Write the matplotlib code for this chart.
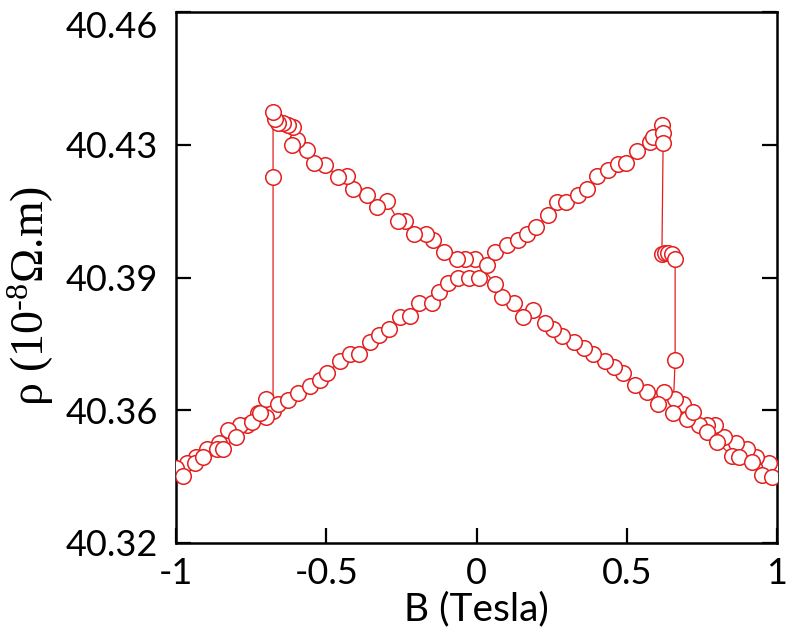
import matplotlib
matplotlib.use("Agg")
import matplotlib.pyplot as plt
import matplotlib.transforms as mtransforms
import numpy as np

# Sweep 1: field decreasing from +1 T to -1 T
B_down = [1.000, 0.973, 0.930, 0.900, 0.864, 0.824, 0.794, 0.767, 0.740, 0.687,
          0.661, 0.624, 0.604, 0.567, 0.527, 0.488, 0.458, 0.428, 0.388, 0.358,
          0.324, 0.285, 0.255, 0.228, 0.188, 0.155, 0.125, 0.085, 0.062, -0.005,
          -0.038, -0.065, -0.108, -0.145, -0.168, -0.208, -0.238, -0.261, -0.298, -0.331,
          -0.364, -0.411, -0.431, -0.461, -0.504, -0.541, -0.564, -0.597, -0.614, -0.611,
          -0.627, -0.644, -0.661, -0.671, -0.677, -0.677, -0.677, -0.700, -0.727, -0.764,
          -0.787, -0.827, -0.857, -0.897, -0.933, -0.963, -1.000]
rho_down = [40.3398, 40.3412, 40.3428, 40.3447, 40.3464, 40.3480, 40.3512, 40.3512, 40.3512, 40.3567,
            40.3580, 40.3597, 40.3567, 40.3597, 40.3617, 40.3648, 40.3664, 40.3681, 40.3697, 40.3714,
            40.3730, 40.3747, 40.3764, 40.3780, 40.3814, 40.3797, 40.3833, 40.3849, 40.3883, 40.3950,
            40.3950, 40.3950, 40.3966, 40.3999, 40.4016, 40.4016, 40.4050, 40.4050, 40.4102, 40.4086,
            40.4118, 40.4133, 40.4168, 40.4165, 40.4197, 40.4203, 40.4236, 40.4263, 40.4249, 40.4297,
            40.4302, 40.4307, 40.4307, 40.4318, 40.4336, 40.4165, 40.3549, 40.3532, 40.3544, 40.3512,
            40.3512, 40.3498, 40.3464, 40.3447, 40.3428, 40.3412, 40.3398]

# Sweep 2: field increasing from -1 T to +1 T
B_up = [-0.977, -0.937, -0.910, -0.864, -0.844, -0.800, -0.747, -0.720, -0.700, -0.661,
        -0.627, -0.594, -0.554, -0.521, -0.498, -0.454, -0.421, -0.391, -0.354, -0.324,
        -0.291, -0.255, -0.221, -0.191, -0.148, -0.125, -0.095, -0.062, -0.025, 0.008,
        0.035, 0.062, 0.102, 0.138, 0.168, 0.198, 0.238, 0.268, 0.298, 0.338,
        0.368, 0.401, 0.438, 0.471, 0.498, 0.534, 0.577, 0.587, 0.617, 0.621,
        0.621, 0.617, 0.627, 0.637, 0.651, 0.661, 0.661, 0.654, 0.700, 0.720,
        0.767, 0.800, 0.850, 0.874, 0.917, 0.950, 0.983]
rho_up = [40.3377, 40.3412, 40.3428, 40.3447, 40.3447, 40.3480, 40.3519, 40.3544, 40.3580, 40.3567,
          40.3577, 40.3595, 40.3614, 40.3630, 40.3648, 40.3680, 40.3698, 40.3698, 40.3730, 40.3748,
          40.3764, 40.3796, 40.3799, 40.3833, 40.3833, 40.3862, 40.3886, 40.3899, 40.3899, 40.3899,
          40.3933, 40.3967, 40.3986, 40.3999, 40.4015, 40.4033, 40.4065, 40.4099, 40.4099, 40.4118,
          40.4133, 40.4168, 40.4183, 40.4199, 40.4202, 40.4234, 40.4257, 40.4270, 40.4302, 40.4281,
          40.4255, 40.3962, 40.3965, 40.3965, 40.3962, 40.3950, 40.3682, 40.3543, 40.3527, 40.3546,
          40.3493, 40.3466, 40.3430, 40.3427, 40.3414, 40.3379, 40.3374]

x_ticks = [-1, -0.5, 0, 0.5, 1]
x_ticklabels = ["-1", "-0.5", "0", "0.5", "1"]
y_ticks = [40.32, 40.355, 40.39, 40.425, 40.46]
y_ticklabels = ["40.32", "40.36", "40.39", "40.43", "40.46"]

plt.rcParams['mathtext.fontset'] = 'custom'
plt.rcParams['mathtext.rm'] = 'Liberation Serif'
plt.rcParams['mathtext.it'] = 'Liberation Serif:italic'

fig = plt.figure(figsize=(7.87, 6.43), dpi=100)
ax = fig.add_axes([176/787, 1-543/643, (777-176)/787, (543-12)/643])

red = '#e41e1e'
B_all = np.array(B_down + B_up)
rho_all = np.array(rho_down + rho_up)
ax.plot(B_all, rho_all, '-', color=red, lw=0.9, marker='o', ms=11.2,
        mfc='white', mec=red, mew=1.1, zorder=3)

ax.set_xlim(-1, 1)
ax.set_ylim(40.32, 40.46)
ax.set_xticks(x_ticks)
ax.set_xticklabels(x_ticklabels)
ax.set_yticks(y_ticks)
ax.set_yticklabels(y_ticklabels)

for s in ax.spines.values():
    s.set_linewidth(1.8)
ax.tick_params(direction='in', length=11, width=1.6, labelsize=26,
               top=False, right=True)
ax.tick_params(axis='y', pad=13)
ax.tick_params(axis='x', pad=10)
for lab in ax.get_xticklabels() + ax.get_yticklabels():
    lab.set_fontfamily('Lato')

# the top y label sits slightly lower in the reference
top_lab = ax.get_yticklabels()[-1]
top_lab.set_transform(top_lab.get_transform() +
                      mtransforms.ScaledTranslation(0, -12/100, fig.dpi_scale_trans))

ax.set_xlabel("B (Tesla)", fontsize=28, family='Lato', labelpad=1)
ax.set_ylabel("ρ (10$^{\u2010 8}$Ω.m)", fontsize=33, family='Liberation Serif')
ax.yaxis.set_label_coords(-0.2, 0.465)

fig.savefig("out.png", dpi=100)
